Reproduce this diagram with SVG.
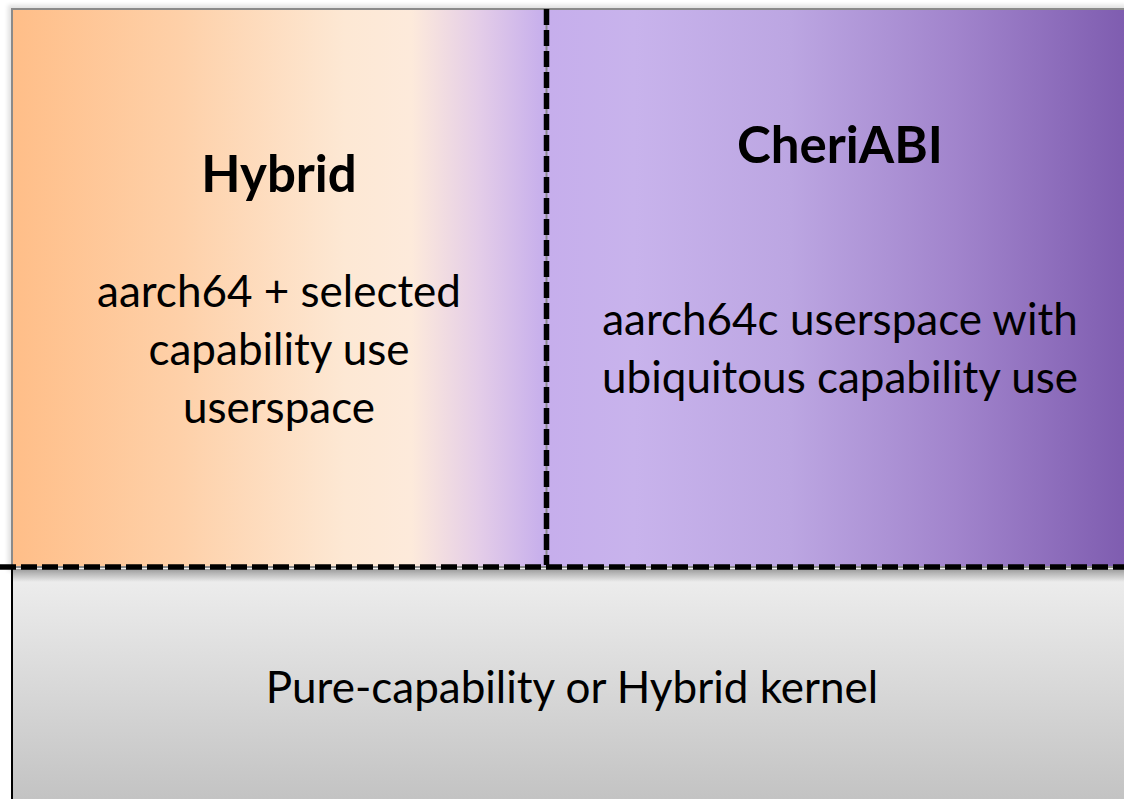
<svg xmlns="http://www.w3.org/2000/svg" width="1124" height="799" viewBox="0 0 1124 799">
<defs>
<linearGradient id="topg" x1="11" y1="0" x2="1124" y2="0" gradientUnits="userSpaceOnUse">
<stop offset="0" stop-color="#ffbe88"/>
<stop offset="0.15" stop-color="#fed0a8"/>
<stop offset="0.3" stop-color="#fde8d4"/>
<stop offset="0.36" stop-color="#fdeadb"/>
<stop offset="0.42" stop-color="#e4cde8"/>
<stop offset="0.48" stop-color="#c6aeec"/>
<stop offset="0.56" stop-color="#c8b3ec"/>
<stop offset="0.7" stop-color="#bca6e2"/>
<stop offset="0.85" stop-color="#a184cc"/>
<stop offset="1" stop-color="#7f5db0"/>
</linearGradient>
<linearGradient id="botg" x1="0" y1="567" x2="0" y2="799" gradientUnits="userSpaceOnUse">
<stop offset="0" stop-color="#efefef"/>
<stop offset="1" stop-color="#c3c3c3"/>
</linearGradient>
<linearGradient id="shad" x1="0" y1="569" x2="0" y2="582" gradientUnits="userSpaceOnUse">
<stop offset="0" stop-color="#000" stop-opacity="0.35"/>
<stop offset="1" stop-color="#000" stop-opacity="0"/>
</linearGradient>
<filter id="sh" x="-5%" y="-5%" width="110%" height="110%">
<feGaussianBlur stdDeviation="2"/>
</filter>
</defs>
<style>
.t{font-family:"Lato","Open Sans",sans-serif;fill:#000;text-anchor:middle}
.b{font-size:51px;font-weight:bold}
.n{font-size:44px}
.d{fill:none;stroke:#000;stroke-width:5.5;stroke-dasharray:16 5}
.u{stroke:#8a8a8a;stroke-width:2}
</style>
<rect x="0" y="0" width="1124" height="799" fill="#fff"/>
<g id="top-area">
<rect x="8" y="5" width="1120" height="566" fill="#000" opacity="0.12" filter="url(#sh)"/>
<rect x="11" y="8" width="1113" height="559" fill="url(#topg)"/>
<line x1="11" y1="9" x2="1124" y2="9" stroke="#8a8a8a" stroke-width="2"/>
<line x1="12" y1="8" x2="12" y2="567" stroke="#8a8a8a" stroke-width="2"/>
</g>
<g id="bottom-area">
<rect x="12" y="567" width="1112" height="232" fill="url(#botg)"/>
<rect x="12" y="569" width="1112" height="13" fill="url(#shad)"/>
<line x1="12" y1="567" x2="12" y2="799" stroke="#000" stroke-width="2"/>
</g>
<g id="hybrid">
<text class="t b" x="279" y="192">Hybrid</text>
<text class="t n" x="279" y="307">aarch64 + selected</text>
<text class="t n" x="279" y="365">capability use</text>
<text class="t n" x="279" y="423">userspace</text>
</g>
<g id="cheriabi">
<text class="t b" x="840" y="163">CheriABI</text>
<text class="t n" x="840" y="335">aarch64c userspace with</text>
<text class="t n" x="840" y="393">ubiquitous capability use</text>
</g>
<g id="kernel">
<text class="t n" x="572" y="703">Pure-capability or Hybrid kernel</text>
</g>
<g id="connectors">
<line class="u" x1="546.5" y1="9" x2="546.5" y2="565"/>
<line class="u" x1="0" y1="567" x2="1124" y2="567"/>
<line class="d" x1="546.5" y1="9" x2="546.5" y2="565"/>
<line class="d" x1="0" y1="567" x2="1124" y2="567"/>
</g>
</svg>
